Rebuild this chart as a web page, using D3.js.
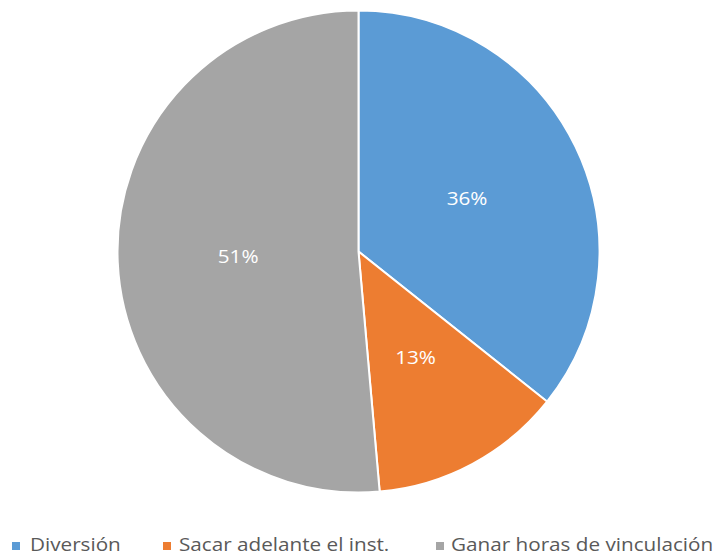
<!DOCTYPE html>
<html>
<head>
<meta charset="utf-8">
<script src="https://cdn.jsdelivr.net/npm/d3@7"></script>
<style>
  body { margin: 0; background: #fff; }
  svg text { font-family: "Open Sans", "Liberation Sans", sans-serif; }
</style>
</head>
<body>
<div id="chart"></div>
<script>
// ---- DATA ----
const categories = ['Diversión', 'Sacar adelante el inst.', 'Ganar horas de vinculación'];
const values = [35.7, 12.9, 51.4];
const labels = ['36%', '13%', '51%'];
const colors = ['#5B9BD5', '#ED7D31', '#A5A5A5'];

const W = 718, H = 556;
const cx = 358.5, cy = 251.5, R = 241;
const stretch = 1.15; // reference font is drawn a bit wider

const svg = d3.select('#chart').append('svg')
  .attr('width', W).attr('height', H);

const pie = d3.pie().sort(null).value(d => d.v);
const arcs = pie(values.map((v, i) => ({ v, i })));
const arc = d3.arc().innerRadius(0).outerRadius(R);

const g = svg.append('g').attr('transform', `translate(${cx},${cy})`);

g.selectAll('path.slice')
  .data(arcs)
  .join('path')
  .attr('class', 'slice')
  .attr('d', arc)
  .attr('fill', d => colors[d.data.i])
  .attr('stroke', '#fff')
  .attr('stroke-width', 2);

g.selectAll('text.lbl')
  .data(arcs)
  .join('text')
  .attr('class', 'lbl')
  .attr('transform', d => `translate(${arc.centroid(d)}) scale(${stretch},1)`)
  .attr('text-anchor', 'middle')
  .attr('dy', '0.35em')
  .attr('fill', '#fff')
  .attr('font-size', '18px')
  .text(d => labels[d.data.i]);

// ---- LEGEND ----
const legendX = [12, 163, 436];
const textX = [30, 179, 451];
const legend = svg.append('g');
categories.forEach((c, i) => {
  legend.append('rect')
    .attr('x', legendX[i]).attr('y', 542).attr('width', 8).attr('height', 8)
    .attr('fill', colors[i]);
  legend.append('text')
    .attr('transform', `translate(${textX[i]},551) scale(${stretch},1)`)
    .attr('font-size', '18px')
    .attr('fill', '#595959')
    .text(c);
});
</script>
</body>
</html>
